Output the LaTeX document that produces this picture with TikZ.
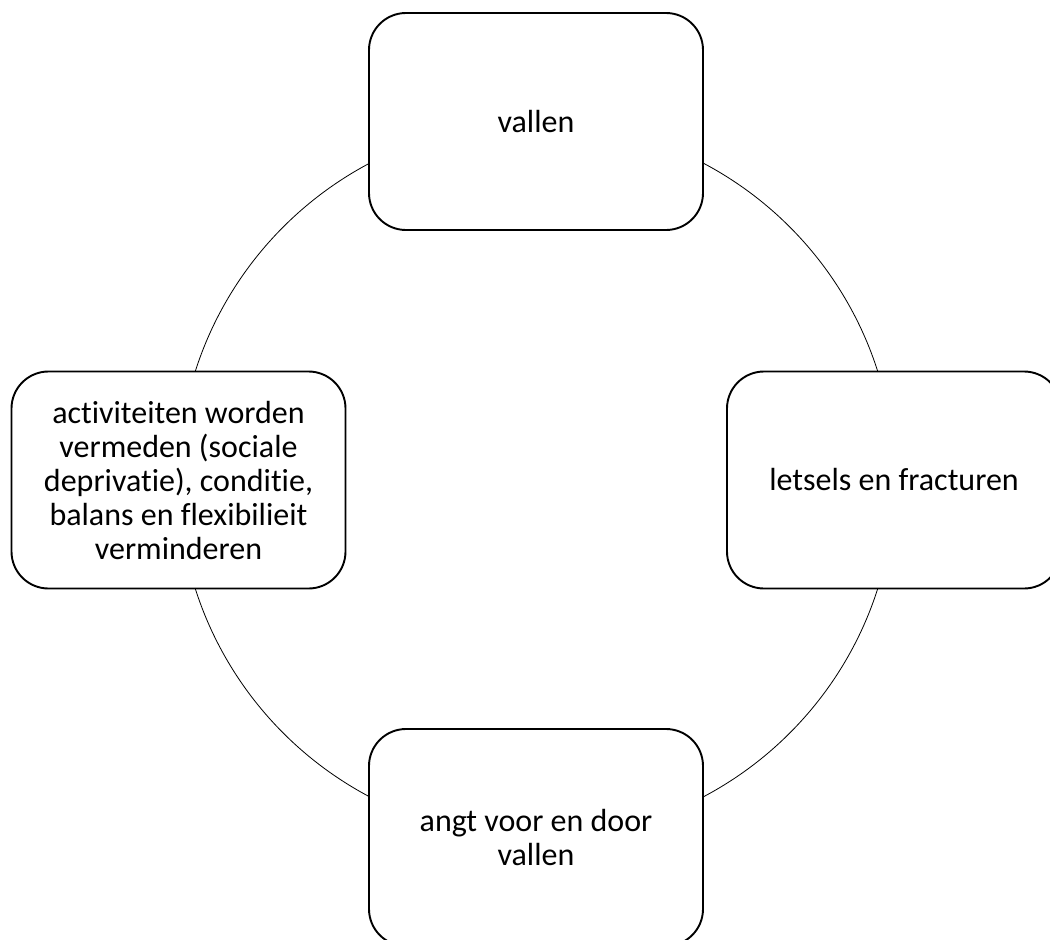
\documentclass[tikz,border=0pt]{standalone}
\usepackage{fontspec}
\setmainfont[Ligatures=NoCommon]{Carlito}
\begin{document}
\begin{tikzpicture}[x=1pt,y=-1pt,
  stagebox/.style={draw=black, line width=1.9pt, fill=white, rounded corners=37pt,
    minimum width=334pt, minimum height=217pt, align=center, inner sep=0pt,
    font=\fontsize{32}{34}\selectfont, text=black},
  cycleline/.style={draw=black, line width=0.8pt}]
\useasboundingbox (0,0) rectangle (1050,940);
\coordinate (mid) at (536.5,480);
\draw[cycleline] (mid) circle[radius=358];
\node[stagebox] (fall) at (536,121.5) {vallen};
\node[stagebox] (injury) at (894,480) {letsels en fracturen};
\node[stagebox] (fear) at (536,837.5) {angt voor en door\\vallen};
\node[stagebox] (avoid) at (178.5,480) {activiteiten worden\\vermeden (sociale\\deprivatie), conditie,\\balans en flexibilieit\\verminderen};
\end{tikzpicture}
\end{document}
